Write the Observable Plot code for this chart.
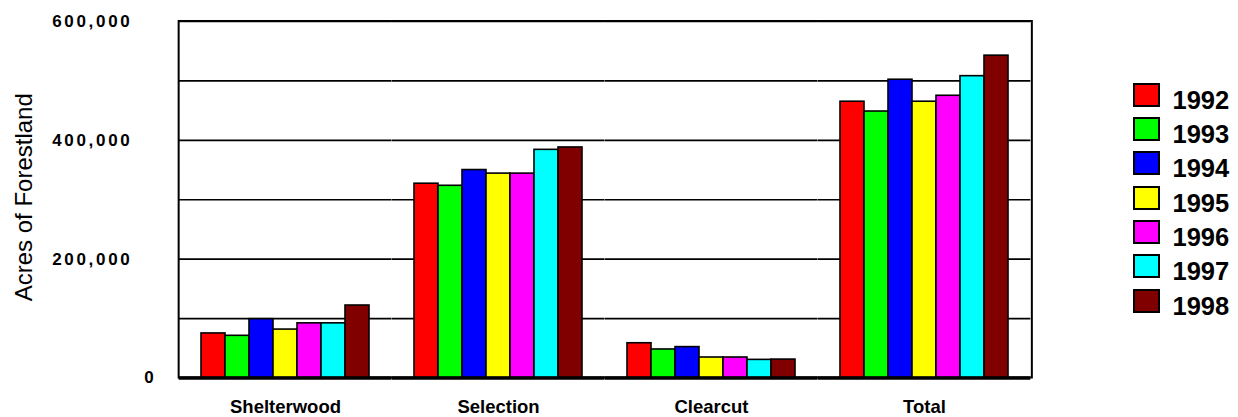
<!DOCTYPE html>
<html>
<head>
<meta charset="utf-8">
<script src="https://cdn.jsdelivr.net/npm/d3@7"></script>
<script src="https://cdn.jsdelivr.net/npm/@observablehq/plot@0.6"></script>
<style>
  html, body { margin: 0; padding: 0; background: #fff; }
  #wrap { position: relative; width: 1238px; height: 417px; font-family: "Liberation Sans", Arial, sans-serif; }
  #legend { position: absolute; left: 1133px; top: 82.7px; }
  .item { display: flex; align-items: flex-start; height: 34.33px; }
  .sw { width: 27px; height: 24px; box-sizing: border-box; border: 2px solid #000; }
  .lab { margin-left: 12.5px; font-size: 25.5px; font-weight: bold; line-height: 1; position: relative; top: 5px; color: #000; }
  g[aria-label="y-axis tick label"] text { letter-spacing: 2.7px; }
</style>
</head>
<body>
<div id="wrap"></div>
<script>
const categories = ["Shelterwood", "Selection", "Clearcut", "Total"];
const years = ["1992", "1993", "1994", "1995", "1996", "1997", "1998"];
const colors = ["#ff0000", "#00ff00", "#0000ff", "#ffff00", "#ff00ff", "#00ffff", "#800000"];
const shelterwood = [75000, 71000, 99000, 81500, 92000, 92000, 122000];
const selection = [327000, 323500, 350000, 344000, 344000, 384000, 388000];
const clearcut = [58500, 48000, 52000, 34500, 34500, 30500, 31000];
const total = [465000, 448500, 502000, 465000, 475000, 508000, 542500];
const yLabelTicks = [200000, 400000, 600000];
const yZeroTick = [0];
const gridValues = [100000, 200000, 300000, 400000, 500000, 600000];
const yTitle = "Acres of Forestland";

const series = [shelterwood, selection, clearcut, total];
const data = categories.flatMap((c, i) => years.map((y, j) => ({category: c, year: y, value: series[i][j]})));

// layout
const W = 1238, H = 417, mL = 178, mR = 206, mT = 21, mB = 39.5;
const padInner = 0.2, padOuter = 0.1;
const plotW = W - mL - mR;
const step = plotW / (categories.length - padInner + 2 * padOuter);
const ext = padOuter * step;            // gap half-width on each side of a facet
const band = (1 - padInner) * step;     // facet width
const first = () => categories[0];
const fmt = d3.format(",");

const chart = Plot.plot({
  width: W,
  height: H,
  marginLeft: mL,
  marginRight: mR,
  marginTop: mT,
  marginBottom: mB,
  style: {fontFamily: "'Liberation Sans', Arial, sans-serif", background: "white", color: "black", overflow: "visible"},
  fx: {domain: categories, paddingInner: padInner, paddingOuter: padOuter},
  x: {domain: years, padding: 0, axis: null},
  y: {domain: [0, 600000]},
  color: {domain: years, range: colors},
  marks: [
    Plot.ruleY(gridValues, {stroke: "black", strokeWidth: 1.6, insetLeft: -ext, insetRight: -ext}),
    Plot.rect([yTitle], {fx: first, fill: "none", stroke: "black", strokeWidth: 2,
      insetLeft: -ext, insetRight: -(plotW - ext - band)}),
    Plot.barY(data, {fx: "category", x: "year", y: "value", fill: "year", stroke: "black", strokeWidth: 1.6}),
    Plot.ruleY([0], {stroke: "black", strokeWidth: 3.5, insetLeft: -ext, insetRight: -ext}),
    Plot.axisY(yLabelTicks, {tickSize: 0, tickPadding: 68, tickFormat: fmt, fontSize: 17, fontWeight: "bold", label: null}),
    Plot.axisY(yZeroTick, {tickSize: 0, tickPadding: 44, tickFormat: fmt, fontSize: 17, fontWeight: "bold", label: null}),
    Plot.text([yTitle], {fx: first, frameAnchor: "left", textAnchor: "middle", lineAnchor: "middle", rotate: -90, dx: -176.6, dy: -2.5, fontSize: 24, text: d => d}),
    Plot.axisFx({anchor: "bottom", tickSize: 0, tickPadding: 22, fontSize: 18.5, fontWeight: "bold", label: null})
  ]
});

const wrap = document.getElementById("wrap");
wrap.appendChild(chart);

const legend = d3.select(wrap).append("div").attr("id", "legend");
const items = legend.selectAll(".item").data(years).join("div").attr("class", "item");
items.append("div").attr("class", "sw").style("background", (d, i) => colors[i]);
items.append("span").attr("class", "lab").text(d => d);
</script>
</body>
</html>
